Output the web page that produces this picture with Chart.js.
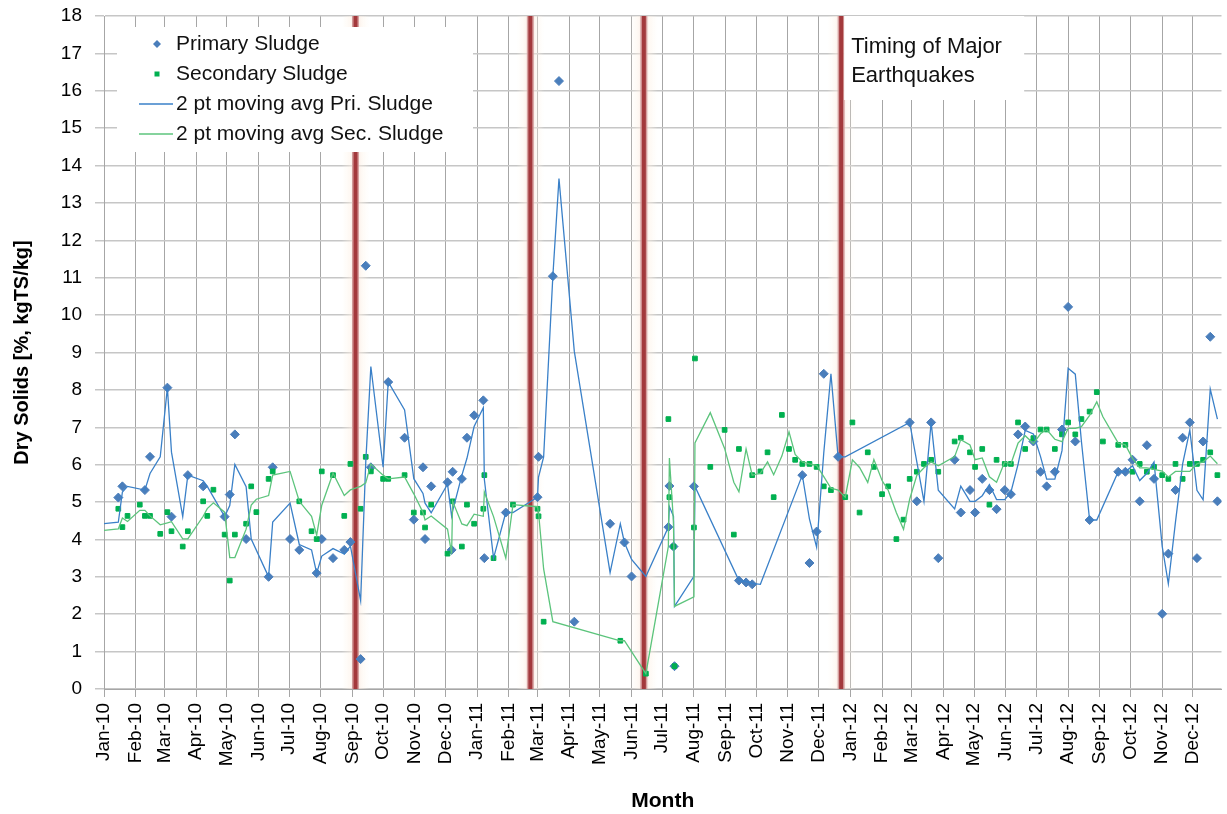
<!DOCTYPE html>
<html>
<head>
<meta charset="utf-8">
<title>Dry solids of primary and secondary sludge</title>
<script src="https://cdn.jsdelivr.net/npm/chart.js@4.4.0/dist/chart.umd.min.js"></script>
<style>
  html, body { margin: 0; padding: 0; background: #fff; }
</style>
</head>
<body>
<canvas id="dsChart" width="1227" height="814"></canvas>
<script>
// sample dates (the first two rows lie before the axis start and only feed the moving averages)
const sampleDates = [
  '2009-12-10', '2009-12-24',
  '2010-01-15', '2010-01-19', '2010-01-24', '2010-02-05', '2010-02-10', '2010-02-15', '2010-02-25',
  '2010-03-04', '2010-03-08', '2010-03-19', '2010-03-24', '2010-04-08', '2010-04-12', '2010-04-18',
  '2010-04-29', '2010-05-04', '2010-05-09', '2010-05-20', '2010-05-25', '2010-05-30', '2010-06-11',
  '2010-06-15', '2010-07-02', '2010-07-11', '2010-07-23', '2010-07-28', '2010-08-02', '2010-08-13',
  '2010-08-24', '2010-08-30', '2010-09-09', '2010-09-14', '2010-09-19', '2010-10-01', '2010-10-06',
  '2010-10-22', '2010-10-31', '2010-11-09', '2010-11-11', '2010-11-17', '2010-12-03', '2010-12-07',
  '2010-12-08', '2010-12-17', '2010-12-22', '2010-12-29',
  '2011-01-07', '2011-01-08', '2011-01-17', '2011-01-29', '2011-02-05', '2011-03-01', '2011-03-02',
  '2011-03-07', '2011-03-16', '2011-03-22', '2011-04-06', '2011-05-11', '2011-05-21', '2011-05-25',
  '2011-06-01', '2011-06-15', '2011-07-07', '2011-07-08', '2011-07-12', '2011-07-13', '2011-08-01',
  '2011-08-02', '2011-08-17', '2011-08-31', '2011-09-09', '2011-09-14', '2011-09-21', '2011-09-27',
  '2011-10-05', '2011-10-12', '2011-10-18', '2011-10-26', '2011-11-02', '2011-11-08', '2011-11-15',
  '2011-11-22', '2011-11-29', '2011-12-06', '2011-12-13', '2011-12-20', '2011-12-27',
  '2012-01-03', '2012-01-10', '2012-01-18', '2012-01-24', '2012-02-01', '2012-02-07', '2012-02-15',
  '2012-02-22', '2012-02-28', '2012-03-06', '2012-03-13', '2012-03-20', '2012-03-27', '2012-04-12',
  '2012-04-18', '2012-04-27', '2012-05-02', '2012-05-09', '2012-05-16', '2012-05-23', '2012-05-31',
  '2012-06-06', '2012-06-13', '2012-06-20', '2012-06-28', '2012-07-05', '2012-07-11', '2012-07-19',
  '2012-07-26', '2012-08-01', '2012-08-08', '2012-08-14', '2012-08-22', '2012-08-29', '2012-09-04',
  '2012-09-19', '2012-09-26', '2012-10-03', '2012-10-10', '2012-10-17', '2012-10-24', '2012-11-01',
  '2012-11-07', '2012-11-14', '2012-11-21', '2012-11-28', '2012-12-05', '2012-12-11', '2012-12-18',
  '2012-12-25'
];

// dry solids %, null = not sampled that day
const primarySludge = [
  5.0, 3.8,
  5.12, 5.42, null, null, 5.32, 6.21, null,
  8.06, 4.61, null, 5.72, 5.42, null, null,
  4.61, 5.2, 6.81, 4.01, null, null, 3.0,
  5.93, 4.01, 3.72, null, 3.1, 4.01, 3.5,
  3.72, 3.93, 0.8, 11.32, 5.93, null, 8.21,
  6.72, 4.53, 5.93, 4.01, 5.42, 5.53, 3.72,
  5.81, 5.62, 6.72, 7.32,
  7.72, 3.5, null, 4.72, null, 5.13, 6.21,
  null, 11.04, 16.26, 1.8, 4.42, null, 3.92,
  3.01, null, 4.33, 5.43, 3.81, 0.61, 5.42,
  null, null, null, null, 2.9, 2.85, 2.8,
  null, null, null, null, null, null, 5.72,
  3.37, 4.21, 8.43, null, 6.21, null,
  null, null, null, null, null, null, null,
  null, 7.13, 5.02, null, 7.13, 3.5, 6.13,
  4.72, 5.32, 4.72, 5.62, 5.32, 4.81, 5.32,
  5.21, 6.81, 7.02, 6.62, 5.81, 5.42, 5.81,
  6.94, 10.22, 6.62, null, 4.52, null, null,
  5.81, 5.81, 6.13, 5.02, 6.52, 5.62, 2.01,
  3.62, 5.32, 6.72, 7.13, 3.5, 6.62, 9.42,
  5.02
];

const secondarySludge = [
  4.7, 3.74,
  4.82, 4.33, 4.63, 4.93, 4.63, 4.63, 4.15,
  4.73, 4.22, 3.81, 4.22, 5.02, 4.63, 5.33,
  4.13, 2.9, 4.13, 4.42, 5.42, 4.73, 5.62,
  5.82, null, 5.02, 4.22, 4.01, 5.82, 5.72,
  4.63, 6.02, 4.82, 6.21, 5.82, 5.62, 5.62,
  5.72, 4.72, 4.72, 4.32, 4.93, 3.62, null,
  5.02, 3.81, 4.93, 4.42,
  4.82, 5.72, 3.5, null, 4.93, 4.82, 4.62,
  1.8, null, null, null, null, 1.29, null,
  null, 0.41, 7.22, 5.13, 3.81, 0.61, 4.32,
  8.84, 5.94, 6.93, 4.13, 6.42, null, 5.72,
  5.82, 6.33, 5.13, 7.33, 6.42, 6.13, 6.02,
  6.02, 5.94, 5.42, 5.32, null, 5.13,
  7.13, 4.72, 6.33, 5.94, 5.21, 5.42, 4.01,
  4.53, 5.62, 5.81, 6.02, 6.13, 5.81, 6.62,
  6.72, 6.33, 5.94, 6.42, 4.93, 6.13, 6.02,
  6.02, 7.13, 6.42, 6.71, 6.94, 6.94, 6.42,
  6.81, 7.13, 6.81, 7.22, 7.42, 7.94, 6.62,
  6.53, 6.53, 5.81, 6.02, 5.81, 5.94, 5.72,
  5.62, 6.02, 5.62, 6.02, 6.02, 6.13, 6.33,
  5.72
];

// major Canterbury earthquakes
const quakeDates = ['2010-09-04', '2011-02-22', '2011-06-13', '2011-12-23'];
const quakeNote = ['Timing of Major', 'Earthquakes'];

const monthLabels = [
  'Jan-10', 'Feb-10', 'Mar-10', 'Apr-10', 'May-10', 'Jun-10', 'Jul-10', 'Aug-10', 'Sep-10', 'Oct-10', 'Nov-10', 'Dec-10',
  'Jan-11', 'Feb-11', 'Mar-11', 'Apr-11', 'May-11', 'Jun-11', 'Jul-11', 'Aug-11', 'Sep-11', 'Oct-11', 'Nov-11', 'Dec-11',
  'Jan-12', 'Feb-12', 'Mar-12', 'Apr-12', 'May-12', 'Jun-12', 'Jul-12', 'Aug-12', 'Sep-12', 'Oct-12', 'Nov-12', 'Dec-12'
];
const monthNames = ['Jan', 'Feb', 'Mar', 'Apr', 'May', 'Jun', 'Jul', 'Aug', 'Sep', 'Oct', 'Nov', 'Dec'];

const xStart = '2010-01-01';
const xEnd = '2012-12-29';

// "Jan-10" -> timestamp of the 1st of that month
const monthTicks = monthLabels.map(l => {
  const [m, y] = l.split('-');
  return Date.UTC(2000 + Number(y), monthNames.indexOf(m), 1);
});
const labelFor = {};
monthTicks.forEach((t, i) => { labelFor[t] = monthLabels[i]; });

// 2 pt moving average over the sheet rows, empty cells skipped like AVERAGE()
function movingAvg2(vals) {
  return vals.map((v, i) => {
    const pair = [vals[i - 1], v].filter(n => n != null);
    return pair.length ? pair.reduce((a, b) => a + b, 0) / pair.length : null;
  });
}

function toPoints(vals) {
  return sampleDates
    .map((d, i) => ({ x: Date.parse(d), y: vals[i] }))
    .filter(p => p.y != null);
}

const BLUE = '#4a7ebb';
const GREEN = '#00b050';
const BLUE_LINE = '#3a80c8';
const GREEN_LINE = '#5cc47c';

Chart.defaults.font.family = "'Liberation Sans', Arial, sans-serif";
Chart.defaults.color = '#000';

const overlay = {
  id: 'overlay',
  beforeDatasetsDraw(chart) {
    const { ctx, chartArea: a, scales: { x } } = chart;
    ctx.save();

    // earthquake markers
    quakeDates.forEach(d => {
      const px = x.getPixelForValue(Date.parse(d));
      const g = ctx.createLinearGradient(px - 14, 0, px + 14, 0);
      g.addColorStop(0, 'rgba(255,248,235,0)');
      g.addColorStop(0.3, 'rgba(253,240,228,0.45)');
      g.addColorStop(0.5, 'rgba(240,210,205,0.8)');
      g.addColorStop(0.7, 'rgba(253,240,228,0.45)');
      g.addColorStop(1, 'rgba(255,248,235,0)');
      ctx.fillStyle = g;
      ctx.fillRect(px - 14, a.top, 28, a.bottom - a.top);
      ctx.fillStyle = 'rgba(205,140,140,0.8)';
      ctx.fillRect(px - 3.5, a.top, 7, a.bottom - a.top);
      ctx.fillStyle = '#a3393c';
      ctx.fillRect(px - 2, a.top, 4, a.bottom - a.top);
    });

    // legend box
    const lx = a.left + 13, ly = a.top + 11;
    ctx.fillStyle = '#fff';
    ctx.fillRect(lx, ly, 356, 125);

    ctx.font = "21px 'Liberation Sans', Arial, sans-serif";
    ctx.textBaseline = 'middle';
    ctx.textAlign = 'left';
    chart.data.datasets.forEach((ds, i) => {
      const cy = a.top + 28 + i * 30;
      const mx = a.left + 53;
      if (ds.showLine === false) {
        ctx.fillStyle = ds.backgroundColor;
        if (ds.pointStyle === 'rectRot') {
          ctx.beginPath();
          ctx.moveTo(mx, cy - 4);
          ctx.lineTo(mx + 4, cy);
          ctx.lineTo(mx, cy + 4);
          ctx.lineTo(mx - 4, cy);
          ctx.closePath();
          ctx.fill();
        } else {
          ctx.fillRect(mx - 2.5, cy - 2.5, 5, 5);
        }
      } else {
        ctx.strokeStyle = ds.borderColor;
        ctx.lineWidth = 1.5;
        ctx.beginPath();
        ctx.moveTo(a.left + 35, cy);
        ctx.lineTo(a.left + 69, cy);
        ctx.stroke();
      }
      ctx.fillStyle = '#111';
      ctx.fillText(ds.label, a.left + 72, cy);
    });

    // note next to the last quake line
    const nx = x.getPixelForValue(Date.parse(quakeDates[quakeDates.length - 1])) + 3;
    ctx.fillStyle = '#fff';
    ctx.fillRect(nx, a.top, 180, 84);
    ctx.fillStyle = '#111';
    ctx.font = "22px 'Liberation Sans', Arial, sans-serif";
    quakeNote.forEach((t, i) => ctx.fillText(t, nx + 7, a.top + 31 + i * 29));

    ctx.restore();
  }
};

const primaryAvg = movingAvg2(primarySludge);
const secondaryAvg = movingAvg2(secondarySludge);

new Chart(document.getElementById('dsChart'), {
  type: 'line',
  data: {
    datasets: [
      {
        label: 'Primary Sludge',
        data: toPoints(primarySludge),
        showLine: false,
        pointStyle: 'rectRot',
        pointRadius: 4.5,
        borderWidth: 1,
        backgroundColor: BLUE,
        borderColor: BLUE,
        order: 4
      },
      {
        label: 'Secondary Sludge',
        data: toPoints(secondarySludge),
        showLine: false,
        pointStyle: 'rect',
        pointRadius: 3.3,
        borderWidth: 1,
        backgroundColor: GREEN,
        borderColor: GREEN,
        order: 3
      },
      {
        label: '2 pt moving avg Pri. Sludge',
        data: toPoints(primaryAvg),
        borderColor: BLUE_LINE,
        borderWidth: 1.3,
        pointRadius: 0,
        tension: 0,
        order: 2
      },
      {
        label: '2 pt moving avg Sec. Sludge',
        data: toPoints(secondaryAvg),
        borderColor: GREEN_LINE,
        borderWidth: 1.3,
        pointRadius: 0,
        tension: 0,
        order: 1
      }
    ]
  },
  options: {
    responsive: false,
    animation: false,
    layout: { padding: { top: 16, right: 0, left: 0, bottom: 0 } },
    plugins: {
      legend: { display: false },
      tooltip: { enabled: false }
    },
    scales: {
      x: {
        type: 'linear',
        min: Date.parse(xStart),
        max: Date.parse(xEnd),
        afterBuildTicks: s => { s.ticks = monthTicks.map(v => ({ value: v })); },
        afterFit: s => { s.height = 125; },
        ticks: {
          autoSkip: false,
          minRotation: 90,
          maxRotation: 90,
          padding: 6,
          font: { size: 19 },
          callback: v => labelFor[v]
        },
        grid: { color: '#a6a6a6', lineWidth: 1, tickLength: 8 },
        border: { color: '#a6a6a6' },
        title: {
          display: true,
          text: 'Month',
          font: { size: 21, weight: 'bold' },
          padding: { top: 0, bottom: 0 }
        }
      },
      y: {
        min: 0,
        max: 18,
        // fixed axis width; drop the vertical label padding so the plot starts at the top margin
        afterFit: s => { s.width = 104; s.paddingTop = 0; s.paddingBottom = 0; },
        ticks: { stepSize: 1, padding: 13, font: { size: 19 } },
        grid: { color: '#c6c6c6', lineWidth: 1.5, tickLength: 9 },
        border: { color: '#a6a6a6' },
        title: {
          display: true,
          text: 'Dry Solids [%, kgTS/kg]',
          font: { size: 20, weight: 'bold' },
          padding: { top: 10, bottom: 0 }
        }
      }
    }
  },
  plugins: [overlay]
});
</script>
</body>
</html>
